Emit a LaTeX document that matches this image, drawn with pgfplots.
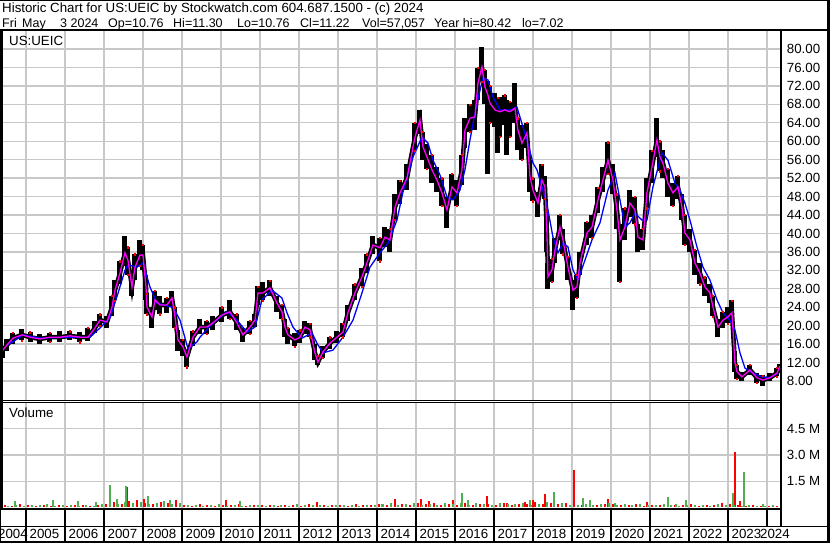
\documentclass[border=0pt]{standalone}
\usepackage{pgfplots}
\usepackage{pgfplotstable}
\pgfplotsset{compat=1.18}
\usepackage{fontspec}
\setmainfont{Liberation Sans}

\definecolor{gridgray}{RGB}{200,200,200}
\definecolor{volgreen}{RGB}{77,175,80}
\definecolor{volred}{RGB}{255,0,0}
\definecolor{ma1}{RGB}{255,0,255}
\definecolor{ma2}{RGB}{0,0,255}

% price path: x in years, c = short average / close, hi and lo = bar range
\pgfplotstableread{
x c hi lo
2004.385 14.5 15.5 13.0
2004.513 15.8 17.0 14.5
2004.667 17.3 18.5 16.0
2004.897 18.0 19.2 16.8
2005.103 17.5 18.6 16.4
2005.359 17.1 18.2 16.0
2005.615 17.5 18.5 16.5
2005.872 17.5 18.8 16.4
2006.128 17.8 18.8 16.8
2006.385 17.5 18.6 16.4
2006.590 17.5 19.5 16.6
2006.769 19.5 21.0 18.5
2006.897 21.2 22.5 20.0
2007.077 20.8 22.0 19.6
2007.205 24.0 26.5 22.0
2007.282 27.7 30.0 25.5
2007.410 31.4 34.0 29.0
2007.538 35.8 39.5 33.0
2007.615 34.2 37.0 31.0
2007.718 28.4 31.0 26.5
2007.795 32.7 35.5 30.0
2007.923 35.3 38.5 33.0
2008.000 35.3 37.5 32.0
2008.077 28.4 31.0 25.5
2008.103 24.0 27.0 22.5
2008.231 21.9 24.0 19.5
2008.308 25.6 27.5 23.5
2008.436 24.5 26.5 22.5
2008.615 24.5 26.0 22.8
2008.744 26.0 27.5 24.0
2008.821 21.9 24.0 19.5
2008.897 16.9 19.0 14.5
2009.026 15.4 17.0 13.5
2009.128 13.2 14.5 11.0
2009.282 17.5 18.8 15.5
2009.462 19.7 21.5 18.2
2009.641 19.7 21.0 18.3
2009.795 20.6 22.0 19.0
2010.026 22.3 24.0 20.8
2010.231 23.0 25.5 21.5
2010.410 20.6 22.5 19.0
2010.564 18.0 19.5 16.5
2010.744 19.7 21.0 18.3
2010.872 21.2 22.5 19.8
2010.949 27.1 28.5 24.5
2011.077 27.1 29.5 25.5
2011.256 28.2 29.8 26.5
2011.436 24.9 26.5 23.0
2011.564 23.0 24.5 21.5
2011.641 19.7 21.5 17.5
2011.718 18.0 19.5 16.0
2011.897 16.9 18.5 15.5
2012.026 17.5 19.0 16.2
2012.154 19.7 21.0 18.2
2012.282 19.1 20.5 17.5
2012.410 14.1 16.0 12.5
2012.487 12.1 13.5 11.5
2012.615 14.3 15.5 13.0
2012.795 16.2 17.5 15.0
2012.974 17.5 18.8 16.2
2013.128 18.6 20.5 17.5
2013.256 22.8 24.5 21.0
2013.436 27.1 29.0 25.5
2013.615 30.6 32.5 28.5
2013.744 33.6 35.5 31.5
2013.897 37.5 39.5 35.5
2014.077 36.9 39.0 34.0
2014.205 39.2 41.5 37.0
2014.333 38.6 41.0 36.0
2014.462 45.7 48.5 43.0
2014.590 48.8 51.5 46.5
2014.769 52.0 55.0 49.5
2014.974 60.9 64.0 58.0
2015.103 64.6 66.8 61.5
2015.179 58.8 62.0 56.0
2015.282 56.6 59.5 54.0
2015.410 53.8 57.0 51.0
2015.538 51.6 54.5 49.0
2015.667 48.8 52.0 46.0
2015.795 45.1 48.0 41.2
2015.923 50.1 53.0 47.5
2016.051 48.8 51.5 46.0
2016.179 53.8 57.0 50.5
2016.256 62.4 65.0 58.5
2016.385 65.0 68.0 62.0
2016.513 65.3 69.0 62.5
2016.590 72.6 76.0 69.0
2016.692 76.1 80.4 73.0
2016.769 71.8 75.5 68.0
2016.846 70.0 73.0 53.0
2016.897 68.3 72.0 64.0
2017.026 66.8 70.5 63.0
2017.090 66.6 69.5 57.5
2017.154 66.4 69.5 61.0
2017.282 66.8 70.0 63.5
2017.333 66.6 69.0 57.0
2017.410 66.4 68.5 61.0
2017.538 67.2 72.6 64.0
2017.615 62.4 65.0 58.0
2017.718 59.6 63.5 56.0
2017.846 61.8 64.0 58.5
2017.923 52.3 56.0 49.0
2018.000 49.4 52.0 47.0
2018.128 46.6 49.0 43.5
2018.231 51.6 55.0 49.0
2018.308 50.1 52.5 47.5
2018.359 40.1 45.0 36.0
2018.385 30.6 33.5 28.0
2018.487 32.1 34.5 29.5
2018.564 36.4 39.0 33.5
2018.692 41.4 44.0 38.5
2018.769 38.6 41.0 35.5
2018.897 32.7 35.0 30.0
2019.026 27.7 30.0 23.5
2019.128 28.4 31.0 26.0
2019.205 33.6 36.0 31.0
2019.385 40.1 42.5 37.5
2019.513 41.4 44.0 39.0
2019.667 47.3 50.0 44.5
2019.795 51.6 54.5 49.0
2019.923 55.9 59.8 53.0
2020.051 51.6 55.0 48.5
2020.154 45.1 48.5 41.0
2020.231 38.6 42.0 29.5
2020.359 41.4 45.5 38.5
2020.487 46.6 49.5 43.5
2020.615 45.1 48.0 42.0
2020.692 39.2 42.0 36.0
2020.821 38.6 41.0 36.5
2020.923 48.8 52.0 45.5
2021.051 54.4 58.0 51.0
2021.179 60.3 65.0 56.5
2021.256 56.6 60.0 53.5
2021.333 55.3 58.0 52.0
2021.462 50.9 54.0 48.0
2021.590 48.8 51.0 46.0
2021.718 50.1 52.5 47.5
2021.821 45.7 48.5 43.0
2021.897 40.1 44.0 37.5
2022.026 38.6 41.0 36.0
2022.154 33.6 36.5 31.0
2022.282 31.4 33.5 29.0
2022.410 28.4 30.5 26.5
2022.538 27.1 29.0 25.0
2022.615 24.1 26.5 22.0
2022.744 19.7 21.5 17.5
2022.872 21.2 23.0 19.5
2023.000 21.9 24.0 20.5
2023.103 22.8 25.5 21.0
2023.179 12.0 14.5 10.0
2023.231 10.0 11.5 8.5
2023.359 8.9 10.0 8.0
2023.564 10.4 11.5 9.2
2023.744 8.7 9.8 7.6
2023.897 8.2 9.2 7.0
2024.077 8.7 9.8 8.0
2024.256 9.7 10.8 9.0
2024.333 11.2 11.6 10.3
}\price

% long moving average
\pgfplotstableread{
x y
2004.513 15.8
2004.667 16.5
2004.923 18.0
2005.359 17.3
2006.051 17.5
2006.641 17.5
2006.897 19.5
2007.154 21.7
2007.359 27.0
2007.538 32.0
2007.615 33.2
2007.846 32.7
2008.000 33.6
2008.179 28.4
2008.359 24.9
2008.615 24.3
2008.769 24.0
2008.949 21.2
2009.154 15.0
2009.385 16.5
2009.462 17.5
2009.795 20.6
2010.154 23.0
2010.410 21.2
2010.667 18.6
2010.872 19.7
2011.051 25.6
2011.308 27.7
2011.564 26.0
2011.692 22.8
2011.846 19.7
2012.077 17.3
2012.333 18.4
2012.462 16.2
2012.615 14.1
2012.872 14.7
2013.128 17.5
2013.385 21.2
2013.615 27.1
2013.821 32.7
2014.077 35.8
2014.282 37.9
2014.513 42.9
2014.667 49.0
2014.923 56.6
2015.154 60.9
2015.308 59.6
2015.436 55.9
2015.615 52.7
2015.795 47.9
2015.949 47.3
2016.128 49.4
2016.256 53.8
2016.385 60.3
2016.564 68.3
2016.718 73.7
2016.846 73.3
2016.974 69.6
2017.154 66.8
2017.410 66.8
2017.590 67.4
2017.744 63.1
2017.846 60.3
2018.000 55.3
2018.103 53.8
2018.256 49.4
2018.385 45.1
2018.513 39.2
2018.641 35.8
2018.769 37.9
2018.897 37.1
2019.026 32.1
2019.154 29.9
2019.333 34.2
2019.513 38.6
2019.718 42.3
2019.923 49.4
2020.103 53.1
2020.231 47.3
2020.359 41.4
2020.487 42.3
2020.615 44.4
2020.795 42.9
2020.923 42.9
2021.077 50.1
2021.308 57.5
2021.462 55.9
2021.641 50.9
2021.769 49.4
2021.897 46.6
2022.026 42.9
2022.205 37.1
2022.359 32.7
2022.538 29.9
2022.718 25.6
2022.872 22.8
2023.051 21.2
2023.179 19.1
2023.308 14.1
2023.436 10.8
2023.641 9.7
2023.872 8.9
2024.077 8.7
2024.282 9.7
}\longma

\begin{document}
\begin{tikzpicture}[x=1pt, y=1pt, font=\fontsize{13.3}{16}\selectfont]
\fill[white] (0,0) rectangle (830,543);

% ---- price panel
\begin{axis}[
  at={(2pt,142pt)}, anchor=south west, scale only axis,
  width=778.2pt, height=370pt,
  xmin=2004.385, xmax=2024.34, ymin=3.66, ymax=83.92,
  axis line style={black, line width=1pt},
  xtick={2005,...,2024}, xticklabels={},
  ytick={8,12,...,80},
  yticklabel pos=right,
  major tick length=0pt,
  xmajorgrids, ymajorgrids,
  grid style={gridgray, line width=1.3pt},
  /pgf/number format/fixed,
  /pgf/number format/fixed zerofill,
  /pgf/number format/precision=2,
  /pgf/number format/assume math mode=true,
  yticklabel style={font=\fontsize{13.3}{16}\selectfont, anchor=west, inner sep=0pt, xshift=6.5pt},
]
% high-low bars
\addplot[black, line width=4.5pt, mark=none,
  error bars/.cd, y dir=both, y explicit, error mark=none,
  error bar style={line width=5pt, black}]
  table[x=x, y=c, y error plus expr=\thisrow{hi}-\thisrow{c},
        y error minus expr=\thisrow{c}-\thisrow{lo}] {\price};
\addplot[only marks, mark=square*, mark size=0.6pt, red, each nth point=2] table[x=x, y=hi] {\price};
\addplot[only marks, mark=square*, mark size=0.6pt, red, each nth point=3] table[x=x, y=lo] {\price};
\addplot[ma2, line width=1.3pt] table[x=x, y=y] {\longma};
\addplot[ma1, line width=1.3pt] table[x=x, y=c] {\price};
\end{axis}

% ---- volume panel (millions)
\begin{axis}[
  at={(2pt,34pt)}, anchor=south west, scale only axis,
  width=778.2pt, height=106pt,
  xmin=2004.385, xmax=2024.34, ymin=-0.086, ymax=5.96,
  axis line style={black, line width=1pt},
  xtick={2005,...,2024}, xticklabels={},
  ytick={1.5,3,4.5}, yticklabels={1.5 M,3.0 M,4.5 M},
  yticklabel pos=right,
  major tick length=0pt,
  xmajorgrids, ymajorgrids,
  grid style={gridgray, line width=1.3pt},
  yticklabel style={font=\fontsize{13.3}{16}\selectfont, anchor=west, inner sep=0pt, xshift=6.5pt},
]
\addplot[ycomb, volred, line width=2pt, mark=none] coordinates {
(2004.45,0.14) (2004.65,0.10) (2004.85,0.18) (2005.05,0.12) (2005.25,0.09)
(2005.45,0.15) (2005.65,0.11) (2005.85,0.13) (2006.05,0.08) (2006.25,0.16)
(2006.45,0.12) (2006.65,0.10) (2006.85,0.17)
(2007.05,0.22) (2007.25,0.30) (2007.45,0.18) (2007.65,0.35) (2007.85,0.25)
(2008.05,0.28) (2008.25,0.20) (2008.45,0.32) (2008.65,0.24) (2008.85,0.27)
(2009.05,0.15) (2009.25,0.11) (2009.45,0.18) (2009.65,0.12) (2009.85,0.09)
(2010.05,0.16) (2010.25,0.13) (2010.45,0.20) (2010.65,0.10) (2010.85,0.14)
(2011.05,0.12) (2011.25,0.17) (2011.45,0.09) (2011.65,0.13) (2011.85,0.15)
(2012.05,0.11) (2012.25,0.18) (2012.45,0.10) (2012.65,0.12) (2012.85,0.14)
(2013.05,0.16) (2013.25,0.11) (2013.45,0.19) (2013.65,0.13) (2013.85,0.17)
(2014.05,0.22) (2014.25,0.16) (2014.45,0.28) (2014.65,0.19) (2014.85,0.14)
(2015.05,0.24) (2015.25,0.18) (2015.45,0.26) (2015.65,0.15) (2015.85,0.20)
(2016.05,0.17) (2016.25,0.23) (2016.45,0.13) (2016.65,0.18) (2016.85,0.21)
(2017.05,0.16) (2017.25,0.25) (2017.45,0.14) (2017.65,0.19) (2017.85,0.22)
(2018.05,0.30) (2018.25,0.18) (2018.45,0.24) (2018.65,0.20) (2018.85,0.27)
(2019.05,0.20) (2019.25,0.15) (2019.45,0.24) (2019.65,0.13) (2019.85,0.18)
(2020.05,0.22) (2020.25,0.12) (2020.45,0.16) (2020.65,0.19) (2020.85,0.11)
(2021.05,0.14) (2021.25,0.17) (2021.45,0.10) (2021.65,0.15) (2021.85,0.13)
(2022.05,0.18) (2022.25,0.09) (2022.45,0.14) (2022.65,0.16) (2022.85,0.11)
(2023.05,0.20) (2023.25,0.13) (2023.45,0.10) (2023.65,0.12) (2023.85,0.08)
(2024.05,0.11) (2024.25,0.09)
(2007.590,1.16) (2007.846,0.44) (2008.026,0.50) (2008.846,0.44) (2010.128,0.44)
(2012.462,0.30) (2014.462,0.50) (2015.128,0.50) (2015.333,0.38) (2015.949,0.44)
(2016.821,0.66) (2017.333,0.25) (2017.795,0.32) (2018.000,0.40) (2018.308,0.78)
(2019.051,2.11) (2019.923,0.50) (2020.923,0.32) (2022.846,0.28) (2023.179,3.14)
(2023.308,0.38)
};
\addplot[ycomb, volgreen, line width=2pt, mark=none] coordinates {
(2004.55,0.11) (2004.75,0.16) (2004.95,0.09) (2005.15,0.14) (2005.35,0.12)
(2005.55,0.18) (2005.75,0.10) (2005.95,0.13) (2006.15,0.15) (2006.35,0.09)
(2006.55,0.14) (2006.75,0.11) (2006.95,0.19)
(2007.15,0.28) (2007.35,0.20) (2007.55,0.33) (2007.75,0.24) (2007.95,0.30)
(2008.15,0.22) (2008.35,0.26) (2008.55,0.35) (2008.75,0.21) (2008.95,0.25)
(2009.15,0.12) (2009.35,0.16) (2009.55,0.10) (2009.75,0.14) (2009.95,0.18)
(2010.15,0.11) (2010.35,0.15) (2010.55,0.09) (2010.75,0.17) (2010.95,0.13)
(2011.15,0.11) (2011.35,0.16) (2011.55,0.14) (2011.75,0.10) (2011.95,0.18)
(2012.15,0.12) (2012.35,0.15) (2012.55,0.13) (2012.75,0.09) (2012.95,0.16)
(2013.15,0.12) (2013.35,0.14) (2013.55,0.11) (2013.75,0.17) (2013.95,0.15)
(2014.15,0.18) (2014.35,0.24) (2014.55,0.15) (2014.75,0.21) (2014.95,0.27)
(2015.15,0.17) (2015.35,0.22) (2015.55,0.14) (2015.75,0.25) (2015.95,0.19)
(2016.15,0.23) (2016.35,0.16) (2016.55,0.28) (2016.75,0.20) (2016.95,0.15)
(2017.15,0.24) (2017.35,0.18) (2017.55,0.22) (2017.75,0.26) (2017.95,0.17)
(2018.15,0.21) (2018.35,0.29) (2018.55,0.19) (2018.75,0.23) (2018.95,0.16)
(2019.15,0.17) (2019.35,0.22) (2019.55,0.14) (2019.75,0.19) (2019.95,0.25)
(2020.15,0.13) (2020.35,0.18) (2020.55,0.15) (2020.75,0.21) (2020.95,0.12)
(2021.15,0.16) (2021.35,0.20) (2021.55,0.14) (2021.75,0.11) (2021.95,0.17)
(2022.15,0.13) (2022.35,0.15) (2022.55,0.10) (2022.75,0.18) (2022.95,0.12)
(2023.15,0.14) (2023.35,0.09) (2023.55,0.13) (2023.75,0.11) (2023.95,0.10)
(2024.15,0.12)
(2004.718,0.38) (2005.692,0.44) (2006.333,0.38) (2006.795,0.32) (2007.154,1.29)
(2007.333,0.50) (2007.564,1.25) (2008.128,0.66) (2008.692,0.44) (2010.487,0.36)
(2014.128,0.20) (2016.179,0.83) (2016.333,0.44) (2017.923,0.44) (2018.359,0.34)
(2018.538,0.90) (2019.282,0.55) (2019.462,0.44) (2020.103,0.25) (2021.462,0.60)
(2021.667,0.19) (2021.923,0.44) (2023.128,0.80) (2023.410,2.05) (2023.897,0.20)
};
\end{axis}

% ---- frame, header and year strip
\draw[line width=1pt] (0,542.5) -- (830,542.5);
\draw[line width=2pt] (0,512.5) -- (830,512.5);
\draw[line width=2.5pt] (828.5,0) -- (828.5,543);
\fill[black] (0,34) rectangle (2.5,512.5);
\draw[line width=1pt] (0.5,0) -- (0.5,34);
\draw[line width=1.5pt] (781,16.5) -- (781,512.5);
\draw[line width=1.5pt] (0,34) -- (781,34);
\draw[line width=1.3pt] (0,16.5) -- (830,16.5);
\draw[line width=1.5pt] (0,1.2) -- (830,1.2);
\foreach \k in {0,...,19} \draw[line width=1.2pt] ({26+39*\k},16.5) -- ({26+39*\k},34);
\foreach \k in {0,...,18} \draw[line width=1.2pt] ({26+39*\k},1.2) -- ({26+39*\k},16.5);
\node[anchor=base west, inner sep=0pt] at (-2,4) {2004};
\foreach \k in {0,...,18} {
  \pgfmathtruncatemacro{\yr}{2005+\k}
  \node[anchor=base west, inner sep=0pt] at ({29.5+39*\k},4) {\yr};
}
\node[anchor=base west, inner sep=0pt] at (760,4) {2024};

% header
\node[anchor=base west, inner sep=0pt] at (2,530) {Historic Chart for US:UEIC by Stockwatch.com 604.687.1500 - (c) 2024};
\begin{scope}[font=\fontsize{12.5}{15}\selectfont]
\node[anchor=base west, inner sep=0pt] at (2,515.5) {Fri};
\node[anchor=base west, inner sep=0pt] at (22,515.5) {May};
\node[anchor=base west, inner sep=0pt] at (60,515.5) {3 2024};
\node[anchor=base west, inner sep=0pt] at (108,515.5) {Op=10.76};
\node[anchor=base west, inner sep=0pt] at (173,515.5) {Hi=11.30};
\node[anchor=base west, inner sep=0pt] at (237,515.5) {Lo=10.76};
\node[anchor=base west, inner sep=0pt] at (300,515.5) {Cl=11.22};
\node[anchor=base west, inner sep=0pt] at (362,515.5) {Vol=57,057};
\node[anchor=base west, inner sep=0pt] at (434,515.5) {Year hi=80.42};
\node[anchor=base west, inner sep=0pt] at (522,515.5) {lo=7.02};
\end{scope}

\node[anchor=base west, inner sep=0pt] at (9,497) {US:UEIC};
\node[anchor=base west, inner sep=0pt] at (9,125) {Volume};

\pgfresetboundingbox
\useasboundingbox (0,0) rectangle (830,543);
\end{tikzpicture}
\end{document}
